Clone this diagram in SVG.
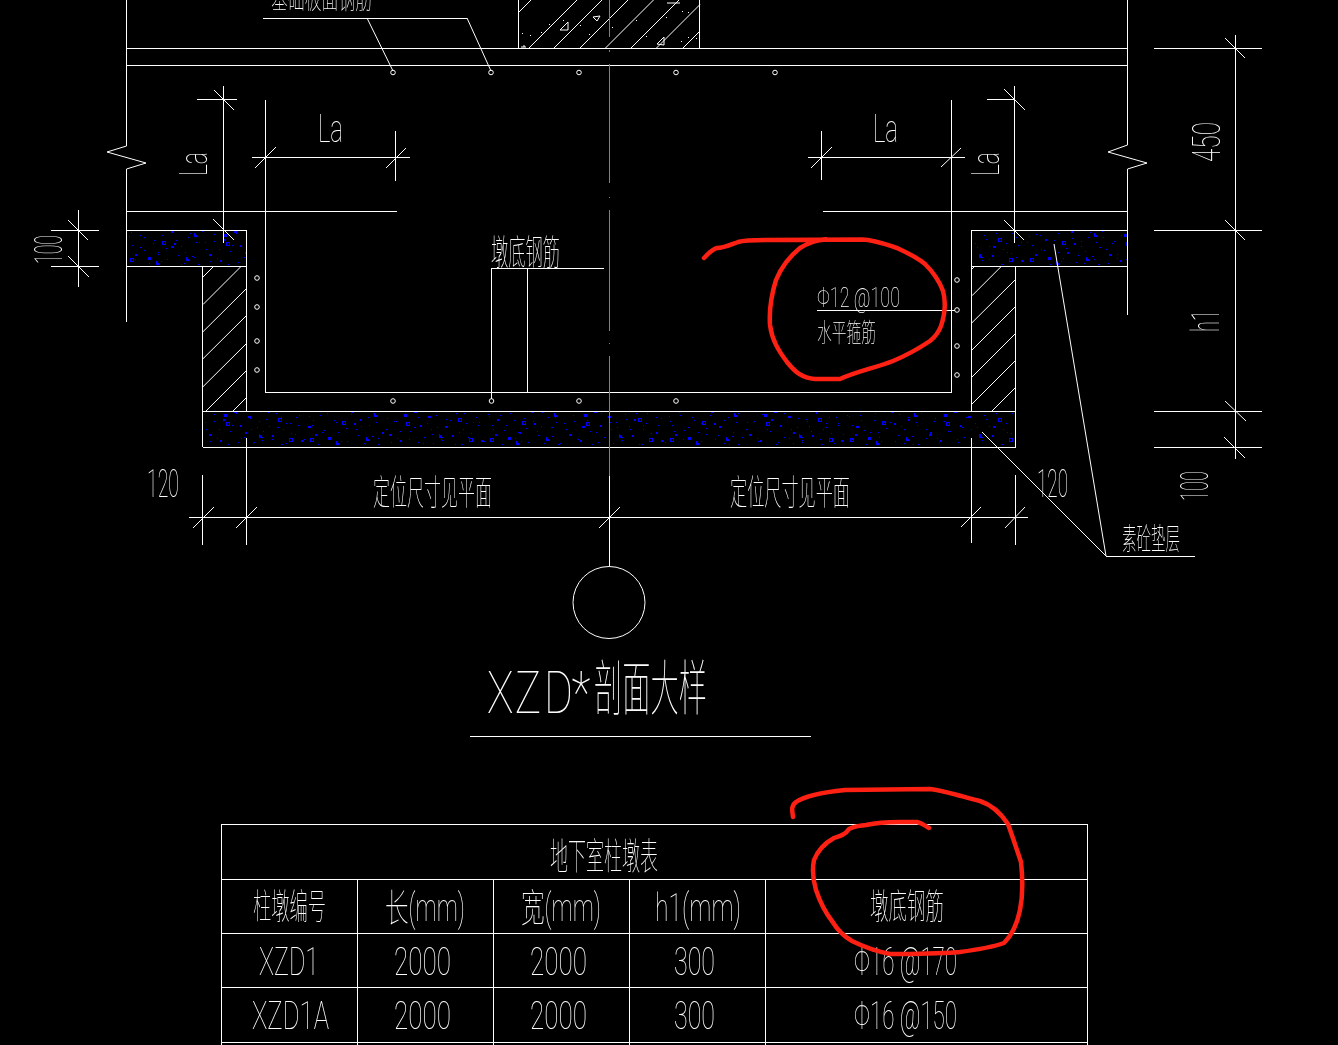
<svg xmlns="http://www.w3.org/2000/svg" width="1338" height="1045" viewBox="0 0 1338 1045">
<style>
.l{stroke:#fff;stroke-width:1;fill:none;shape-rendering:crispEdges}
.d{stroke:#fff;stroke-width:1;fill:none}
.g{stroke:#808080;stroke-width:1;fill:none;shape-rendering:crispEdges}
.r{stroke:#ff2014;stroke-width:4.500;fill:none;stroke-linejoin:round;stroke-linecap:round}
.t{fill:#fff;font-family:"Roboto","Liberation Sans","Noto Sans CJK SC",sans-serif;font-weight:100;font-size:38px}
.c{fill:#fff;font-family:"Noto Sans CJK SC","Noto Sans CJK TC",sans-serif;font-weight:100;font-size:35px}
.b{fill:#0000ff}
.o{fill:none;stroke:#0000ff;stroke-width:1;shape-rendering:crispEdges}
</style>
<defs>
<pattern id="sp" patternUnits="userSpaceOnUse" width="180" height="36" x="126" y="230">
<g class="b">
<rect x="3" y="6" width="1" height="1"/><rect x="9" y="24" width="2" height="2"/><rect x="14" y="5" width="1" height="1"/><rect x="22" y="27" width="3" height="3"/><rect x="28" y="10" width="1" height="1"/><rect x="35" y="31" width="1" height="1"/><rect x="40" y="18" width="1" height="1"/><rect x="45" y="1" width="3" height="2"/><rect x="48" y="13" width="2" height="2"/><rect x="52" y="25" width="1" height="1"/><rect x="58" y="33" width="1" height="1"/><rect x="62" y="7" width="1" height="1"/><rect x="66" y="26" width="2" height="1"/><rect x="72" y="34" width="2" height="1"/><rect x="76" y="1" width="1" height="1"/><rect x="83" y="24" width="3" height="2"/><rect x="88" y="11" width="1" height="1"/><rect x="94" y="30" width="2" height="2"/><rect x="98" y="4" width="3" height="3"/><rect x="104" y="21" width="1" height="1"/><rect x="108" y="1" width="3" height="2"/><rect x="114" y="15" width="2" height="2"/><rect x="118" y="27" width="1" height="1"/><rect x="122" y="6" width="3" height="2"/><rect x="127" y="33" width="1" height="1"/><rect x="131" y="17" width="1" height="1"/><rect x="136" y="30" width="1" height="1"/><rect x="140" y="9" width="1" height="1"/><rect x="146" y="25" width="2" height="2"/><rect x="150" y="3" width="1" height="1"/><rect x="155" y="34" width="2" height="1"/><rect x="160" y="13" width="1" height="1"/><rect x="165" y="23" width="1" height="1"/><rect x="170" y="7" width="1" height="1"/><rect x="175" y="30" width="3" height="2"/><rect x="6" y="15" width="1" height="1"/><rect x="18" y="20" width="1" height="1"/><rect x="32" y="22" width="1" height="1"/><rect x="55" y="16" width="1" height="1"/><rect x="70" y="12" width="1" height="1"/><rect x="80" y="19" width="1" height="1"/><rect x="91" y="28" width="1" height="1"/><rect x="112" y="32" width="1" height="1"/><rect x="125" y="19" width="1" height="1"/><rect x="143" y="16" width="1" height="1"/><rect x="157" y="19" width="1" height="1"/><rect x="172" y="15" width="1" height="1"/>
</g>
<path class="o" d="M4 28.500h3v3h-3zM36 11.500h3v3h-3zM68 3.500l3 3h-3zM60 27.500l3 3h-3zM100 12.500h3v3h-3zM133 24.500l3 3h-3zM152 8.500h3v3h-3zM30 31.500l3 3h-3zM163 28.500h3v3h-3z"/>
</pattern>
<pattern id="sq" patternUnits="userSpaceOnUse" width="137" height="36" x="203" y="230">
<g class="b">
<rect x="2" y="12" width="1" height="1"/><rect x="7" y="31" width="1" height="1"/><rect x="11" y="4" width="1" height="1"/><rect x="16" y="19" width="1" height="1"/><rect x="20" y="9" width="2" height="2"/><rect x="25" y="34" width="1" height="1"/><rect x="29" y="15" width="1" height="1"/><rect x="33" y="3" width="1" height="1"/><rect x="38" y="28" width="1" height="1"/><rect x="42" y="22" width="2" height="2"/><rect x="47" y="8" width="1" height="1"/><rect x="51" y="32" width="1" height="1"/><rect x="56" y="11" width="1" height="1"/><rect x="60" y="21" width="1" height="1"/><rect x="65" y="2" width="1" height="1"/><rect x="69" y="29" width="1" height="1"/><rect x="74" y="17" width="2" height="1"/><rect x="78" y="7" width="1" height="1"/><rect x="83" y="33" width="1" height="1"/><rect x="87" y="13" width="1" height="1"/><rect x="92" y="24" width="1" height="1"/><rect x="96" y="5" width="1" height="1"/><rect x="101" y="29" width="1" height="1"/><rect x="105" y="16" width="3" height="2"/><rect x="110" y="10" width="1" height="1"/><rect x="115" y="34" width="1" height="1"/><rect x="119" y="22" width="1" height="1"/><rect x="124" y="3" width="1" height="1"/><rect x="128" y="27" width="1" height="1"/><rect x="133" y="12" width="1" height="1"/>
</g>
</pattern>
</defs>
<rect width="1338" height="1045" fill="#000"/>

<g id="concrete-left"><rect x="127" y="230" width="119" height="36" fill="url(#sp)"/><rect x="127" y="230" width="119" height="36" fill="url(#sq)"/><path class="l" d="M126.500 230.500H246.500V411M126.500 266.500H246.500"/></g>
<g id="concrete-right"><rect x="972" y="230" width="155" height="36" fill="url(#sp)"/><rect x="972" y="230" width="155" height="36" fill="url(#sq)"/><path class="l" d="M1127.500 230.500H971.500V411M971.500 266.500H1127.500"/></g>
<g id="concrete-bottom"><rect x="203" y="411" width="812" height="36" fill="url(#sp)"/><rect x="203" y="411" width="812" height="36" fill="url(#sq)"/><path class="l" d="M202.500 411.500H1015.500M202.500 447.500H1015.500"/></g>

<g id="wall-left"><path class="l" d="M202.500 266V447M246.500 411V266"/>
<path class="d" d="M203 277L214 266M203 304.500L241 266.500M203 331.700L246 289M203 358.700L246 316M203 386.700L246 344M206 411L246 371M233 411L246 398"/></g>
<g id="wall-right"><path class="l" d="M1015.500 266V447"/>
<path class="d" d="M972 269L974 267M972 295.700L1001 266.700M972 322.700L1015 280M972 350L1015 307M972 377L1015 334M972 404L1015 361M992 411L1015 388"/></g>

<g id="column-top"><path class="l" d="M518.500 0V48M699.500 0V48"/>
<path class="d" d="M519 12L531 0M529 48L577 0M554 48L602 0M580 48L628 0M605.500 48L653.500 0M631 48L679 0M656.500 48L700 4.500M683 48L700 31"/>
<path class="d" d="M560 30L568 22V30ZM593 17L600 16L597 21ZM657 44L664 37V45ZM521 47H526M667 3H680M524 47V45"/>
<path fill="#fff" d="M522 33h1v1h-1zM530 35h1v1h-1zM541 32h1v1h-1zM549 24h1v1h-1zM580 25h1v1h-1zM563 20h1v1h-1zM589 34h1v1h-1zM612 27h1v1h-1zM636 20h1v1h-1zM646 36h1v1h-1zM666 17h1v1h-1zM682 11h1v1h-1zM681 41h1v1h-1zM688 12h1v1h-1zM696 38h1v1h-1zM688 37h1v1h-1z"/></g>

<g id="outline"><path class="l" d="M126.500 0V146M126.500 169V322M1127.500 0V145M1127.500 169V315M126 48.500H1128M126 65.500H1128M126 211.500H397M823 211.500H1128M265.500 100V392.500H951.500V100"/>
<path class="d" d="M126.500 146L107 152L146 163L126.500 169M1127.500 145L1108 152L1147 163L1127.500 169"/></g>

<g id="centerline"><path class="g" d="M609.500 0V37M609.500 50V52M609.500 64V183M609.500 197V198M609.500 210V331M609.500 343V344M609.500 356V476"/><path class="l" d="M609.500 476V566"/></g>

<g id="rebar"><g class="d">
<circle cx="393" cy="72.500" r="2.300"/><circle cx="491" cy="72.500" r="2.300"/><circle cx="579" cy="72.500" r="2.300"/><circle cx="676" cy="72.500" r="2.300"/><circle cx="775" cy="72.500" r="2.300"/>
<circle cx="393" cy="401" r="2.300"/><circle cx="491.500" cy="401" r="2.300"/><circle cx="579" cy="401" r="2.300"/><circle cx="676" cy="401" r="2.300"/>
<circle cx="257" cy="278" r="2.300"/><circle cx="257" cy="307" r="2.300"/><circle cx="257" cy="341" r="2.300"/><circle cx="257" cy="370" r="2.300"/>
<circle cx="957" cy="280" r="2.300"/><circle cx="957" cy="310" r="2.300"/><circle cx="957" cy="346" r="2.300"/><circle cx="957" cy="375" r="2.300"/></g></g>

<g id="connectors">
<path class="l" d="M263 18.500H467M491.500 268.500H604M491.500 268V399M527.500 268V392M817 310.500H955M1106 556.500H1195"/>
<path class="d" d="M367 18L393 71M467 18L491 71M1054 244L1106 556M982 432L1106 556"/>
</g>

<g id="dimensions">
<path class="l" d="M223.500 86V243M197 99.500H237M252 157.500H410M395.500 131V181M51 230.500H99M51 266.500H99M78.500 210V287"/>
<path class="d" d="M214 90L234 110M213 219L234 240M255 168L276 147M386 168L406 148M68 220L88 240M68 256L89 277"/>
<path class="l" d="M1014.500 86V243M987 99.500H1014M808 157.500H965M821.500 131V180"/>
<path class="d" d="M1004 89L1025 110M1004 220L1024 240M811 168L832 147M941 167L961 148"/>
<path class="l" d="M1235.500 35V459M1154 48.500H1262M1154 230.500H1262M1154 411.500H1262M1154 447.500H1262"/>
<path class="d" d="M1225 38L1245 58M1225 220L1245 240M1225 401L1246 421M1224 437L1245 458"/>
<path class="l" d="M202.500 475V545M246.500 438V545M189 517.500H1028M971.500 438V543M1015.500 475V545"/>
<path class="d" d="M193 528L214 507M236 528L257 507M599 528L620 507M961 527L981 507M1005 528L1025 507"/>
</g>

<g id="section-mark"><circle class="d" cx="609" cy="602.500" r="36"/><path class="l" d="M470 736.500H811"/></g>

<g id="table"><path class="l" d="M221.500 1045V824.500H1087.500V1045M221.500 879.500H1087.500M221.500 933.500H1087.500M221.500 987.500H1087.500M221.500 1042.500H1087.500M357.500 879.500V1045M493.500 879.500V1045M629.500 879.500V1045M765.500 879.500V1045"/></g>

<g id="labels" opacity="0.99">
<text class="c" x="271" y="9" textLength="101" lengthAdjust="spacingAndGlyphs" style="font-size:29px">基础板面钢筋</text>
<text class="t" x="318" y="142" textLength="25" lengthAdjust="spacingAndGlyphs">La</text>
<text class="t" x="873" y="142" textLength="25" lengthAdjust="spacingAndGlyphs">La</text>
<text class="t" transform="translate(207,176) rotate(-90)" textLength="24" lengthAdjust="spacingAndGlyphs">La</text>
<text class="t" transform="translate(999,176) rotate(-90)" textLength="24" lengthAdjust="spacingAndGlyphs">La</text>
<text class="t" transform="translate(62,264) rotate(-90)" textLength="29" lengthAdjust="spacingAndGlyphs">100</text>
<text class="t" transform="translate(1220,162) rotate(-90)" textLength="40" lengthAdjust="spacingAndGlyphs">450</text>
<text class="t" transform="translate(1219,332) rotate(-90)" textLength="22" lengthAdjust="spacingAndGlyphs">h1</text>
<text class="t" transform="translate(1208,501) rotate(-90)" textLength="30" lengthAdjust="spacingAndGlyphs">100</text>
<text class="t" x="147" y="497" textLength="32" lengthAdjust="spacingAndGlyphs">120</text>
<text class="t" x="1037" y="497" textLength="31" lengthAdjust="spacingAndGlyphs">120</text>
<text class="c" x="373" y="505" textLength="119" lengthAdjust="spacingAndGlyphs">定位尺寸见平面</text>
<text class="c" x="730" y="505" textLength="120" lengthAdjust="spacingAndGlyphs">定位尺寸见平面</text>
<text class="c" x="491" y="265" textLength="69" lengthAdjust="spacingAndGlyphs">墩底钢筋</text>
<text class="t" x="817" y="307" textLength="83" lengthAdjust="spacingAndGlyphs" style="font-size:27px">Φ12 @100</text>
<text class="c" x="817" y="342" textLength="59" lengthAdjust="spacingAndGlyphs" style="font-size:26px">水平箍筋</text>
<text class="c" x="1122" y="549" textLength="58" lengthAdjust="spacingAndGlyphs" style="font-size:30px">素砼垫层</text>
<text class="t" transform="translate(487,713) scale(.75,1)" x="0 37 76 113" style="font-size:59px">XZD*</text>
<text class="c" x="594" y="710" textLength="113" lengthAdjust="spacingAndGlyphs" style="font-size:60px">剖面大样</text>
<text class="c" x="550" y="870" textLength="108" lengthAdjust="spacingAndGlyphs" style="font-size:37px">地下室柱墩表</text>
<text class="c" x="253" y="919" textLength="73" lengthAdjust="spacingAndGlyphs">柱墩编号</text>
<text class="t" x="385" y="921" textLength="80" lengthAdjust="spacingAndGlyphs">长(mm)</text>
<text class="t" x="521" y="921" textLength="80" lengthAdjust="spacingAndGlyphs">宽(mm)</text>
<text class="t" x="655" y="921" textLength="86" lengthAdjust="spacingAndGlyphs">h1(mm)</text>
<text class="c" x="870" y="919" textLength="74" lengthAdjust="spacingAndGlyphs">墩底钢筋</text>
<text class="t" x="259" y="975" textLength="60" lengthAdjust="spacingAndGlyphs">XZD1</text>
<text class="t" x="252" y="1029" textLength="77" lengthAdjust="spacingAndGlyphs">XZD1A</text>
<text class="t" x="394" y="975" textLength="57" lengthAdjust="spacingAndGlyphs">2000</text>
<text class="t" x="530" y="975" textLength="57" lengthAdjust="spacingAndGlyphs">2000</text>
<text class="t" x="394" y="1029" textLength="57" lengthAdjust="spacingAndGlyphs">2000</text>
<text class="t" x="530" y="1029" textLength="57" lengthAdjust="spacingAndGlyphs">2000</text>
<text class="t" x="674" y="975" textLength="41" lengthAdjust="spacingAndGlyphs">300</text>
<text class="t" x="674" y="1029" textLength="41" lengthAdjust="spacingAndGlyphs">300</text>
<text class="t" x="854" y="975" textLength="103" lengthAdjust="spacingAndGlyphs">Φ16 @170</text>
<text class="t" x="854" y="1029" textLength="103" lengthAdjust="spacingAndGlyphs">Φ16 @150</text>
</g>

<g id="annotations">
<path class="r" d="M704 258C708 254 712 249 717 248C724 248 730 245 738 242C745 240 752 240 765 240L862 239.500C875 240 885 244 897 248C908 253 918 258 925 264C933 272 939 280 943 291C946 302 945 314 941 326C938 334 935 337 930 341C918 349 905 356 893 361C875 368 858 371 840 379H815C802 378 795 372 787 362C778 350 772 340 770 325C769 310 771 296 776 280C781 268 790 256 800 248C808 243 815 240 826 239.500"/>
<path class="r" d="M793 817C792 810 791 806 796 802C805 796 825 792 845 790L930 789C945 791 960 796 980 801C992 805 1002 815 1008 824C1013 838 1017 850 1021 862C1023 880 1023 895 1020 910C1017 925 1012 935 1004 943C990 948 975 950 960 952C935 954 910 954 890 954C875 951 860 945 852 941C845 937 838 931 832 921C825 912 820 902 816 890C813 880 812 870 814 860C818 850 825 843 834 838C840 836 845 835 849 829C855 826 860 826 866 825C875 823 885 822 900 822H917C923 823 925 826 929 828"/>
</g>
</svg>
